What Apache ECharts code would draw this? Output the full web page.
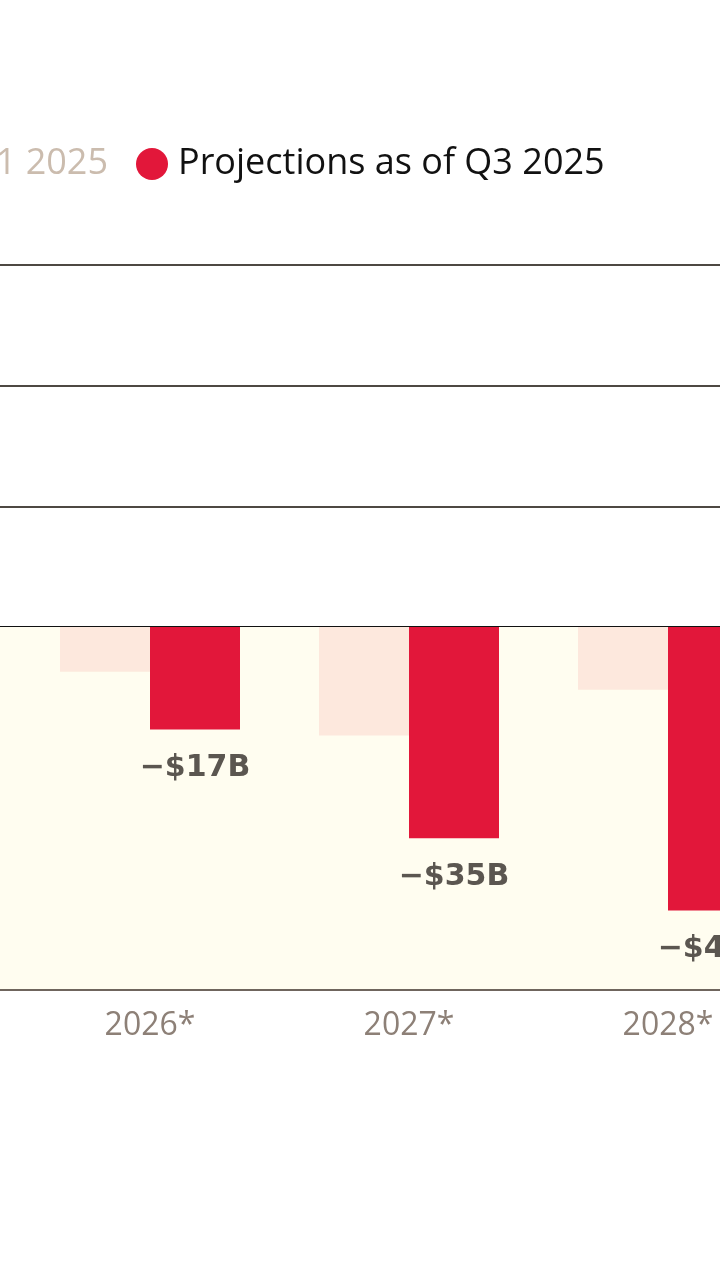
<!DOCTYPE html>
<html><head><meta charset="utf-8">
<script src="https://cdn.jsdelivr.net/npm/echarts@6/dist/echarts.min.js"></script>
<style>
html,body{margin:0;padding:0;width:720px;height:1280px;overflow:hidden;background:#ffffff;}
#wrap{position:absolute;left:0;top:0;width:720px;height:1280px;overflow:hidden;}
#c{position:absolute;left:-300px;top:0;width:1400px;height:1280px;}
</style></head>
<body><div id="wrap"><div id="c"></div></div>
<script>
// Categories (blank entries are the neighbouring, cropped-off columns)
const categories = ['', '2026*', '2027*', '2028*', ''];
const q1Values = [null, -7.4, -18, -10.4, null];   // Projections as of Q1 2025 ($B)
const q3Values = [null, -17, -35, -47, null];       // Projections as of Q3 2025 ($B)
const yTicks = [-60, -40, -20, 0, 20, 40, 60];
const seriesNames = ['Projections as of Q1 2025', 'Projections as of Q3 2025'];

const chart = echarts.init(document.getElementById('c'), null, {renderer: 'canvas'});
const lineColors = ['#6f655d', '#4d4843', '#4d4843', '#111111', '#4d4843', '#4d4843', '#4d4843'];
chart.setOption({
  backgroundColor: 'transparent',
  animation: false,
  legend: [
    {
      data: [seriesNames[0]],
      right: 992, top: 146, padding: 0,
      icon: 'circle', itemWidth: 32, itemHeight: 32,
      textStyle: {fontFamily: 'Open Sans', fontSize: 36, color: '#cbbcae', padding: [0, 0, 0, 5]}
    },
    {
      data: [seriesNames[1]],
      left: 436, top: 146, padding: 0,
      icon: 'circle', itemWidth: 32, itemHeight: 32,
      textStyle: {fontFamily: 'Open Sans', fontSize: 36, color: '#111111', padding: [0, 0, 0, 5]}
    }
  ],
  grid: {left: 61.5, right: 43.5, top: 265, bottom: 291, containLabel: false},
  xAxis: {
    type: 'category', data: categories,
    axisLine: {onZero: false, lineStyle: {color: '#6f655d', width: 3}},
    axisTick: {show: false},
    axisLabel: {color: '#8d8077', fontFamily: 'Open Sans', fontSize: 32, margin: 21}
  },
  yAxis: {
    type: 'value', min: yTicks[0], max: yTicks[yTicks.length - 1], interval: 20,
    axisLine: {show: false}, axisTick: {show: false}, axisLabel: {show: false},
    splitLine: {lineStyle: {color: lineColors, width: 2}}
  },
  series: [
    {
      name: seriesNames[0], type: 'bar', data: q1Values,
      barWidth: 90, barGap: '0%',
      itemStyle: {color: '#fde8dd'},
      markArea: {
        silent: true,
        itemStyle: {color: '#fffdf0', opacity: 1},
        data: [[{yAxis: 0}, {yAxis: yTicks[0]}]]
      },
      z: 2
    },
    {
      name: seriesNames[1], type: 'bar', data: q3Values,
      barWidth: 90,
      itemStyle: {color: '#e2173a'},
      label: {
        show: true, position: 'bottom', distance: 24,
        fontFamily: 'DejaVu Sans', fontWeight: 'bold', fontSize: 30, color: '#5b5650',
        formatter: p => '−$' + Math.abs(p.value) + 'B'
      },
      z: 3
    }
  ]
});
</script></body></html>
